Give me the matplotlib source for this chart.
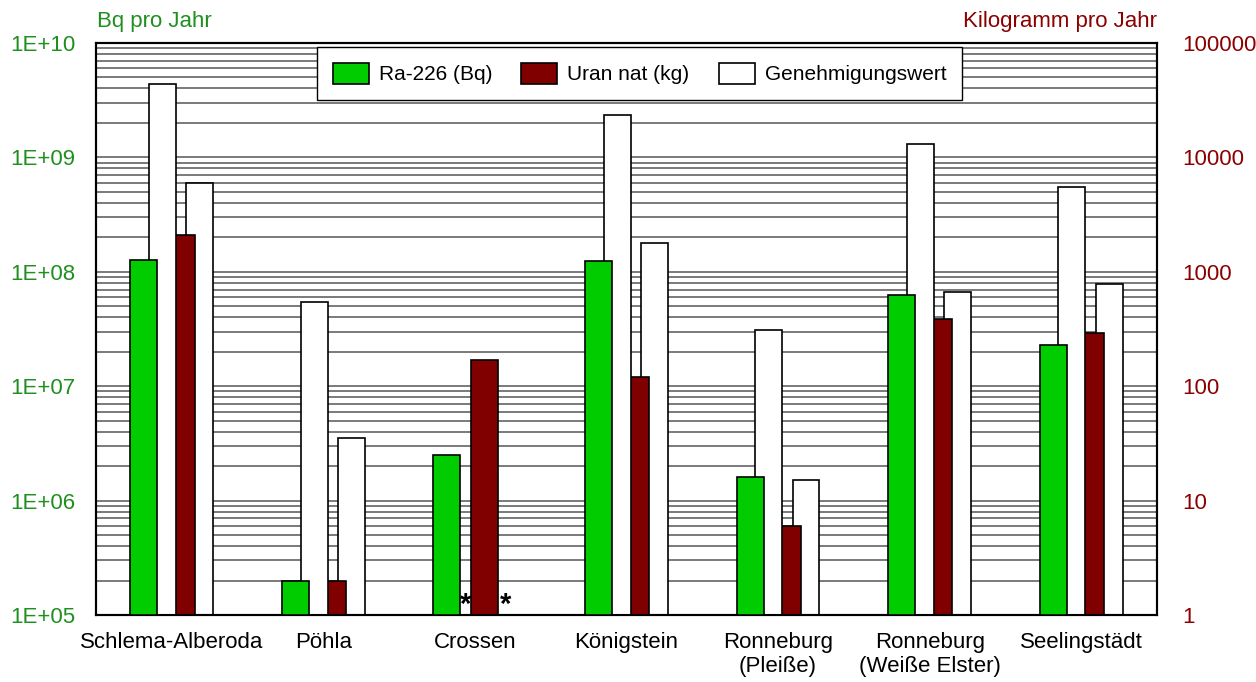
import numpy as np
import matplotlib.pyplot as plt
from matplotlib.ticker import FixedLocator, FuncFormatter, LogLocator, NullFormatter

plt.rcParams['font.family'] = ['Liberation Sans', 'DejaVu Sans']

# data
sites = ["Schlema-Alberoda", "Pöhla", "Crossen", "Königstein",
         "Ronneburg\n(Pleiße)", "Ronneburg\n(Weiße Elster)", "Seelingstädt"]
ra226_bq = [1.26e8, 2.0e5, 2.5e6, 1.24e8, 1.6e6, 6.3e7, 2.3e7]
ra226_limit_bq = [4.4e9, 5.4e7, np.nan, 2.35e9, 3.1e7, 1.3e9, 5.5e8]
uran_kg = [2090, 2, 170, 120, 6, 390, 290]
uran_limit_kg = [6000, 35, np.nan, 1770, 15, 660, 790]
no_limit_sites = ["Crossen"]

GREEN = "#00cc00"
DARKRED = "#800000"
LABEL_GREEN = "#1f8f1f"
LABEL_RED = "#8b0000"

fig = plt.figure(figsize=(12.56, 6.82), dpi=100)
ax = fig.add_axes([0.0764, 0.0982, 0.8448, 0.8388])
ax2 = ax.twinx()
# left axis (Ra) drawn on top of the right axis (uranium)
ax.set_zorder(ax2.get_zorder() + 1)
ax.patch.set_visible(False)

x = np.arange(len(sites))
off = 0.1228
w = 0.178

ax.set_yscale('log')
ax2.set_yscale('log')
ax.set_ylim(1e5, 1e10)
ax2.set_ylim(1, 1e5)
ax.set_xlim(-0.5, len(sites) - 0.5)

#bars, right axis first so they sit behind
ax2.bar(x + 1.5 * off, np.array(uran_limit_kg) - 1, bottom=1, width=w,
        color='white', edgecolor='black', linewidth=1.2, zorder=2)
red_bars = ax2.bar(x + 0.5 * off, np.array(uran_kg) - 1, bottom=1, width=w,
                   color=DARKRED, edgecolor='black', linewidth=1.2, zorder=3)
white_bars = ax.bar(x - 0.5 * off, np.array(ra226_limit_bq) - 1e5, bottom=1e5, width=w,
                    color='white', edgecolor='black', linewidth=1.2, zorder=2)
green_bars = ax.bar(x - 1.5 * off, np.array(ra226_bq) - 1e5, bottom=1e5, width=w,
                    color=GREEN, edgecolor='black', linewidth=1.2, zorder=3)

#asterisks where no limit exists
for s in no_limit_sites:
    i = sites.index(s)
    for xo in (i - 0.5 * off, i + 1.5 * off + 0.02):
        ax.text(xo, 1.22e5, "*", ha='center', va='center', fontsize=21,
                fontweight='bold', zorder=5)

#ticks
ax.yaxis.set_major_locator(FixedLocator([10.0 ** k for k in range(5, 11)]))
ax.yaxis.set_minor_locator(LogLocator(base=10, subs=np.arange(2, 10), numticks=20))
ax.yaxis.set_major_formatter(FuncFormatter(lambda v, p: "1E+%02d" % int(round(np.log10(v)))))
ax.yaxis.set_minor_formatter(NullFormatter())
ax2.yaxis.set_major_locator(FixedLocator([10.0 ** k for k in range(0, 6)]))
ax2.yaxis.set_minor_locator(LogLocator(base=10, subs=np.arange(2, 10), numticks=20))
ax2.yaxis.set_major_formatter(FuncFormatter(lambda v, p: "%d" % int(round(v))))
ax2.yaxis.set_minor_formatter(NullFormatter())

ax.tick_params(axis='y', which='both', length=0, pad=15, labelsize=16, labelcolor=LABEL_GREEN)
ax2.tick_params(axis='y', which='both', length=0, pad=18, labelsize=16, labelcolor=LABEL_RED)
ax.set_xticks(x)
ax.set_xticklabels(sites)
ax.tick_params(axis='x', length=0, pad=12, labelsize=16)

#gridlines behind everything
ax2.set_axisbelow(True)
ax2.grid(True, which='both', axis='y', color='#7a7a7a', linewidth=1.4)

for a in (ax, ax2):
    for sp in a.spines.values():
        sp.set_color('black')
        sp.set_linewidth(1.5)

fig.text(97 / 1256, 1 - 21 / 682, "Bq pro Jahr", color=LABEL_GREEN, fontsize=16,
         ha='left', va='center')
fig.text(1157 / 1256, 1 - 21 / 682, "Kilogramm pro Jahr", color=LABEL_RED, fontsize=16,
         ha='right', va='center')

leg = ax.legend([green_bars, red_bars, white_bars],
                ["Ra-226 (Bq)", "Uran nat (kg)", "Genehmigungswert"],
                ncol=3, loc='upper left', bbox_to_anchor=(317 / 1256, 1 - 47 / 682),
                bbox_transform=fig.transFigure, borderaxespad=0,
                frameon=True, fancybox=False, edgecolor='black', framealpha=1,
                fontsize=15, handlelength=1.73, handleheight=1.2, handletextpad=0.48,
                columnspacing=1.4, borderpad=0.75)
leg.get_frame().set_linewidth(1.0)
leg.set_zorder(10)

fig.savefig("out.png", dpi=100)
